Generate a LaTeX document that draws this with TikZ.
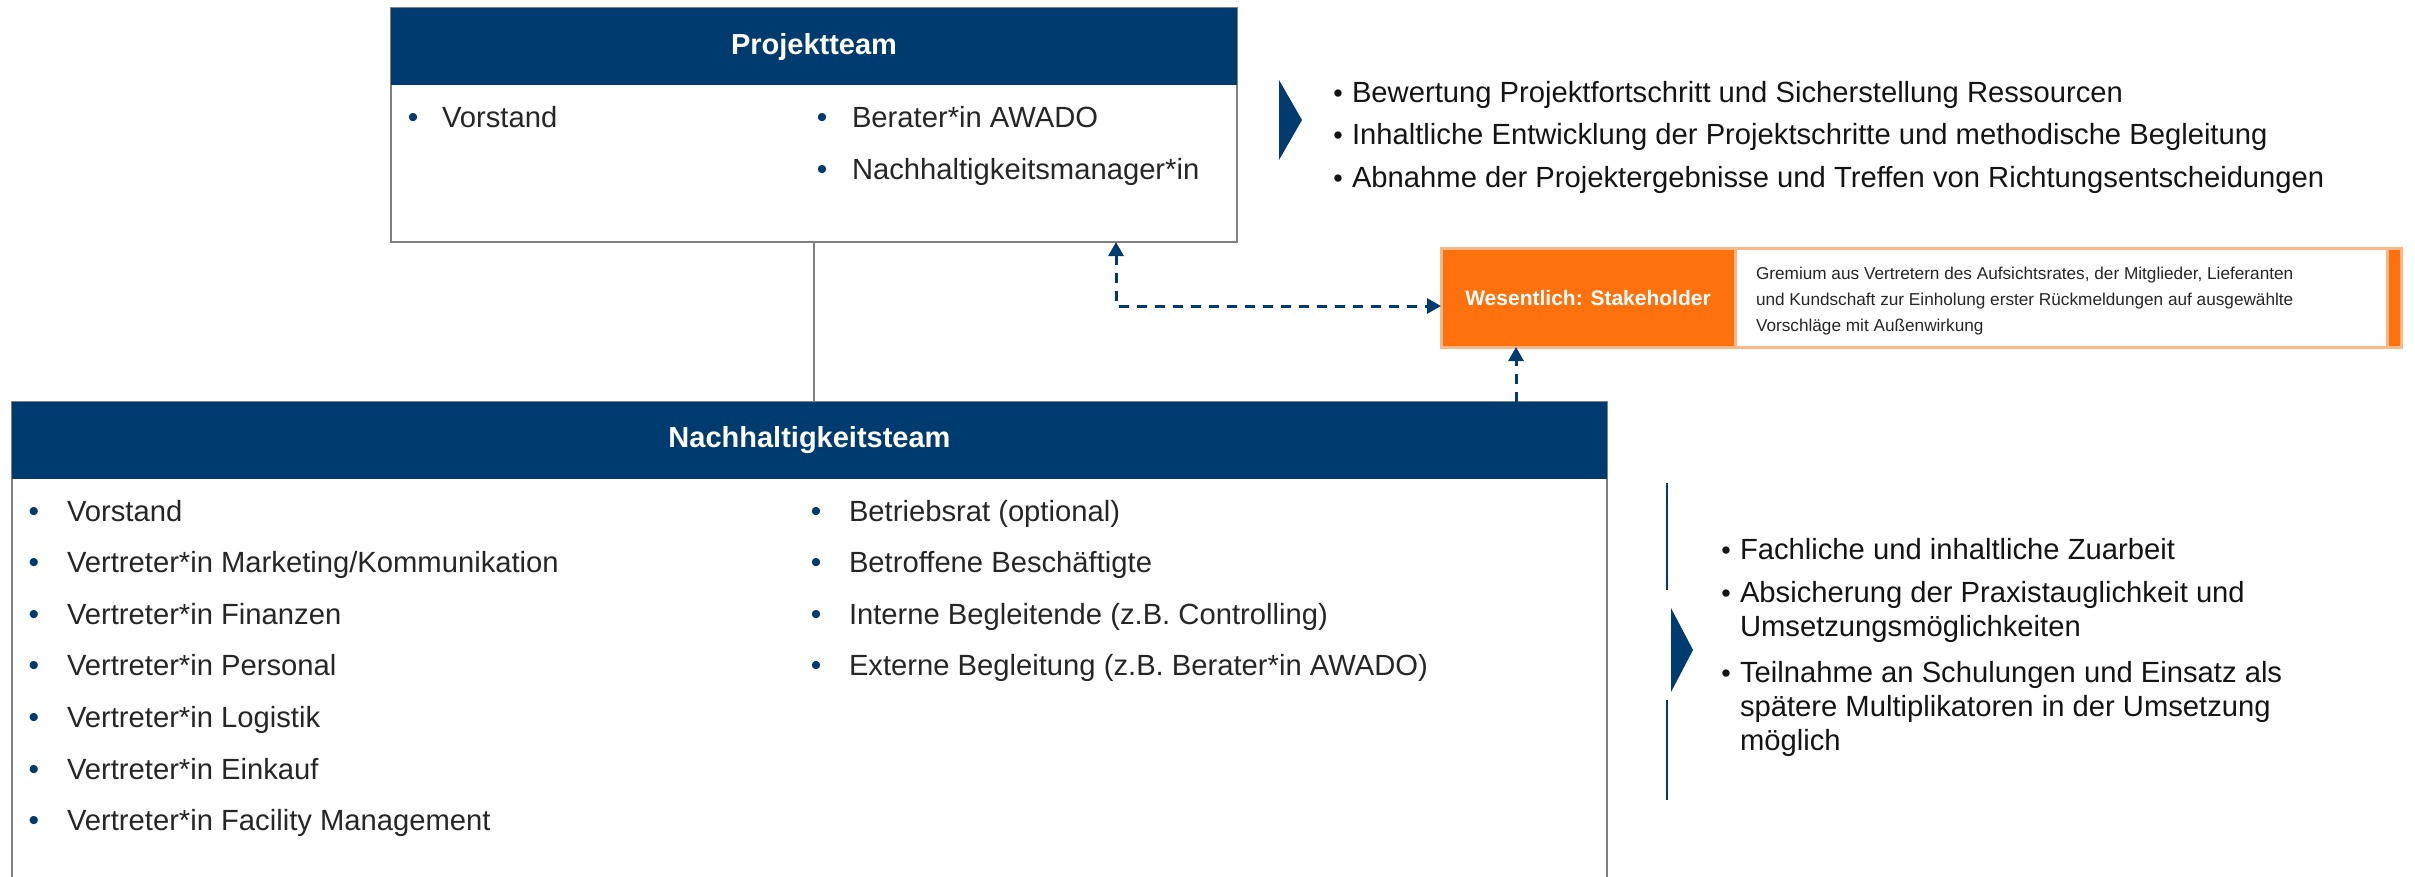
\documentclass[tikz,border=0pt]{standalone}
\usepackage{fontspec}
\setmainfont{Liberation Sans}
\usetikzlibrary{arrows.meta}
\definecolor{navy}{RGB}{0,59,111}
\definecolor{orng}{RGB}{255,113,13}
\definecolor{lorng}{RGB}{255,182,135}
\definecolor{boxgray}{RGB}{128,128,128}
\definecolor{txt}{RGB}{38,38,38}
\begin{document}
\begin{tikzpicture}[x=1pt,y=-1pt,
  every node/.style={inner sep=0pt, outer sep=0pt},
  frame/.style={draw=boxgray, line width=2.5pt, fill=white, anchor=north west},
  hdr/.style={fill=navy, text=white, font=\fontsize{29}{34}\selectfont\bfseries, anchor=north west},
  item/.style={anchor=base west, text=txt, font=\fontsize{29.2}{34}\selectfont},
  dot/.style={anchor=base, text=navy, font=\fontsize{30}{34}\selectfont},
  ritem/.style={anchor=base west, text=black!92, font=\fontsize{29.2}{34}\selectfont},
  rdot/.style={anchor=base, text=black!92, font=\fontsize{27}{34}\selectfont},
  stxt/.style={anchor=base west, text=txt, font=\fontsize{17.2}{22}\selectfont},
  dasharrow/.style={navy, line width=3pt, dash pattern=on 10pt off 8pt, arrows={-Triangle[length=14pt,width=15pt]}},
  dasharrowboth/.style={navy, line width=3pt, dash pattern=on 10pt off 8pt, arrows={Triangle[length=14pt,width=15pt]-Triangle[length=14pt,width=15pt]}},
  chev/.style={fill=navy},
  conn/.style={draw=boxgray, line width=2.5pt}
]
\useasboundingbox (0,0) rectangle (2415,876);
\clip (0,0) rectangle (2415,876);

% Projektteam
\node[frame, minimum width=846pt, minimum height=234pt] (pt) at (391,8) {};
\node[hdr, minimum width=846pt, minimum height=77pt] (pth) at (391,8) {Projektteam};
\node[dot] (ptd1) at (413,127) {\textbullet};
\node[item] (pti1) at (442,127) {Vorstand};
\node[dot] (ptd2) at (822,127) {\textbullet};
\node[item] (pti2) at (852,127) {Berater*in AWADO};
\node[dot] (ptd3) at (822,179) {\textbullet};
\node[item] (pti3) at (852,179) {Nachhaltigkeitsmanager*in};

% Nachhaltigkeitsteam
\node[frame, minimum width=1595pt, minimum height=520pt] (nt) at (12,402) {};
\node[hdr, minimum width=1595pt, minimum height=77pt] (nth) at (12,402) {Nachhaltigkeitsteam};
\foreach \t [count=\i] in {Vorstand, Vertreter*in Marketing/Kommunikation, Vertreter*in Finanzen, Vertreter*in Personal, Vertreter*in Logistik, Vertreter*in Einkauf, Vertreter*in Facility Management}{
  \pgfmathsetmacro{\yy}{521+51.6*(\i-1)}
  \node[dot] (ntld\i) at (34,\yy) {\textbullet};
  \node[item] (ntl\i) at (67,\yy) {\t};
}
\foreach \t [count=\i] in {Betriebsrat (optional), Betroffene Beschäftigte, Interne Begleitende (z.B. Controlling), Externe Begleitung (z.B. Berater*in AWADO)}{
  \pgfmathsetmacro{\yy}{521+51.6*(\i-1)}
  \node[dot] (ntrd\i) at (816,\yy) {\textbullet};
  \node[item] (ntr\i) at (849,\yy) {\t};
}

% connector Projektteam - Nachhaltigkeitsteam
\draw[conn] (pt.south) -- (pt.south |- nt.north);

% Stakeholder box
\node[draw=lorng, line width=3pt, fill=white, anchor=north west, minimum width=960pt, minimum height=99pt] (sh) at (1441,248) {};
\node[fill=orng, draw=lorng, line width=3pt, anchor=north west, minimum width=294pt, minimum height=99pt,
  text=white, font=\fontsize{21}{25}\selectfont\bfseries] (shl) at (1441,248) {Wesentlich: Stakeholder};
\node[fill=orng, draw=lorng, line width=3pt, anchor=north east, minimum width=14pt, minimum height=99pt] (shr) at (2401,248) {};
\node[stxt] (sht1) at (1756,279) {Gremium aus Vertretern des Aufsichtsrates, der Mitglieder, Lieferanten};
\node[stxt] (sht2) at (1756,305) {und Kundschaft zur Einholung erster Rückmeldungen auf ausgewählte};
\node[stxt] (sht3) at (1756,331) {Vorschläge mit Außenwirkung};

% dashed arrows
\coordinate (c1) at (1116,306);
\coordinate (c2) at (1516,380);
\draw[dasharrowboth] (c1 |- pt.south) |- (sh.west |- c1);
\draw[dasharrow] (c2 |- nt.north) -- (c2 |- sh.south);

% top right chevron and texts
\fill[chev] (1279,80) -- (1302,120) -- (1279,160) -- cycle;
\node[rdot] (rd1) at (1338,102) {\textbullet};
\node[ritem] (rt1) at (1352,102) {Bewertung Projektfortschritt und Sicherstellung Ressourcen};
\node[rdot] (rd2) at (1338,144) {\textbullet};
\node[ritem] (rt2) at (1352,144) {Inhaltliche Entwicklung der Projektschritte und methodische Begleitung};
\node[rdot] (rd3) at (1338,187) {\textbullet};
\node[ritem] (rt3) at (1352,187) {Abnahme der Projektergebnisse und Treffen von Richtungsentscheidungen};

% lower right bracket, chevron and texts
\draw[navy, line width=2.5pt] (1667,483) -- (1667,590);
\draw[navy, line width=2.5pt] (1667,700) -- (1667,800);
\fill[chev] (1671,608) -- (1693,650) -- (1671,692) -- cycle;
\node[rdot] (bd1) at (1726,559) {\textbullet};
\node[ritem] (bt1) at (1740,559) {Fachliche und inhaltliche Zuarbeit};
\node[rdot] (bd2) at (1726,602) {\textbullet};
\node[ritem] (bt2) at (1740,602) {Absicherung der Praxistauglichkeit und};
\node[ritem] (bt2b) at (1740,636) {Umsetzungsmöglichkeiten};
\node[rdot] (bd3) at (1726,682) {\textbullet};
\node[ritem] (bt3) at (1740,682) {Teilnahme an Schulungen und Einsatz als};
\node[ritem] (bt3b) at (1740,716) {spätere Multiplikatoren in der Umsetzung};
\node[ritem] (bt3c) at (1740,750) {möglich};
\end{tikzpicture}
\end{document}
